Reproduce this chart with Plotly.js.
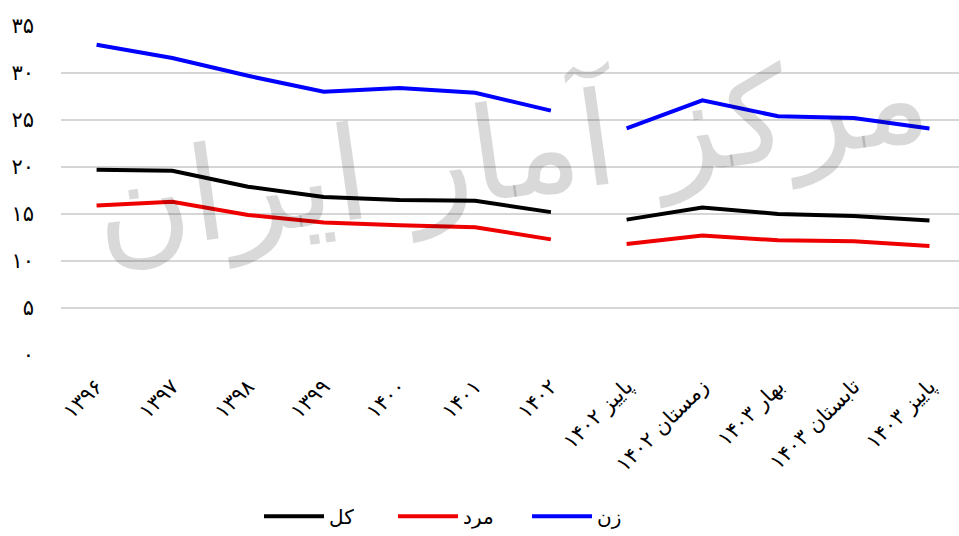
<!DOCTYPE html>
<html>
<head>
<meta charset="utf-8">
<script src="https://cdn.plot.ly/plotly-3.0.1.min.js"></script>
<style>html,body{margin:0;padding:0;background:#fff;}#chart{width:959px;height:536px;}</style>
</head>
<body>
<div id="chart"></div>
<script>
const categories = ['۱۳۹۶','۱۳۹۷','۱۳۹۸','۱۳۹۹','۱۴۰۰','۱۴۰۱','۱۴۰۲','پاییز ۱۴۰۲','زمستان ۱۴۰۲','بهار ۱۴۰۳','تابستان ۱۴۰۳','پاییز ۱۴۰۳'];
const totalValues  = [19.7, 19.6, 17.9, 16.8, 16.5, 16.4, 15.2, 14.4, 15.7, 15.0, 14.8, 14.3];
const maleValues   = [15.9, 16.3, 14.9, 14.1, 13.8, 13.6, 12.3, 11.8, 12.7, 12.2, 12.1, 11.6];
const femaleValues = [33.0, 31.6, 29.7, 28.0, 28.4, 27.9, 26.0, 24.1, 27.1, 25.4, 25.2, 24.1];
const seriesNames = ['کل', 'مرد', 'زن'];
const yTickVals = [0, 5, 10, 15, 20, 25, 30, 35];
const yTickText = ['۰','۵','۱۰','۱۵','۲۰','۲۵','۳۰','۳۵'];
const splitIndex = 7; // annual values, then seasonal values

const colors = ['#000000', '#ee0000', '#0000ff'];
const allSeries = [totalValues, maleValues, femaleValues];
const FONT = 'DejaVu Sans, sans-serif';

const traces = [];
allSeries.forEach((vals, i) => {
  traces.push({
    type: 'scatter', mode: 'lines', name: seriesNames[i], legendgroup: 'g' + i,
    x: categories.slice(0, splitIndex), y: vals.slice(0, splitIndex),
    line: {color: colors[i], width: 4}, hoverinfo: 'skip'
  });
  traces.push({
    type: 'scatter', mode: 'lines', name: seriesNames[i], legendgroup: 'g' + i, showlegend: false,
    x: categories.slice(splitIndex), y: vals.slice(splitIndex),
    line: {color: colors[i], width: 4}, hoverinfo: 'skip'
  });
});

const layout = {
  width: 959, height: 536,
  margin: {l: 61, r: 0, t: 26, b: 176},
  paper_bgcolor: '#ffffff', plot_bgcolor: '#ffffff',
  font: {family: FONT, size: 20, color: '#000'},
  showlegend: true,
  legend: {orientation: 'h', x: 0.2205, xanchor: 'left', y: -0.49, yanchor: 'middle',
           font: {family: FONT, size: 20, color: '#000'}, itemwidth: 60, entrywidth: 59, entrywidthmode: 'pixels',
           traceorder: 'normal'},
  xaxis: {
    type: 'category', categoryorder: 'array', categoryarray: categories,
    range: [-0.47, 11.39], showgrid: false, zeroline: false, showline: false, ticks: '',
    tickangle: -45, ticklabelstandoff: 14, tickfont: {family: FONT, size: 21, color: '#000'}, fixedrange: true
  },
  yaxis: {
    range: [0, 35], tickvals: yTickVals, ticktext: yTickText,
    showgrid: true, gridcolor: '#d6d6d6', gridwidth: 1.5, zeroline: false, showline: false, ticks: '',
    ticklabelstandoff: 26, tickfont: {family: FONT, size: 21, color: '#000'}, fixedrange: true
  },
  annotations: [{
    text: 'مرکز آمار ایران', xref: 'paper', yref: 'paper', x: 0.5, y: 0.62,
    showarrow: false, textangle: -8,
    font: {family: FONT, size: 130, color: 'rgba(0,0,0,0.15)'}
  }]
};

Plotly.newPlot('chart', traces, layout, {displayModeBar: false, staticPlot: true});
</script>
</body>
</html>
